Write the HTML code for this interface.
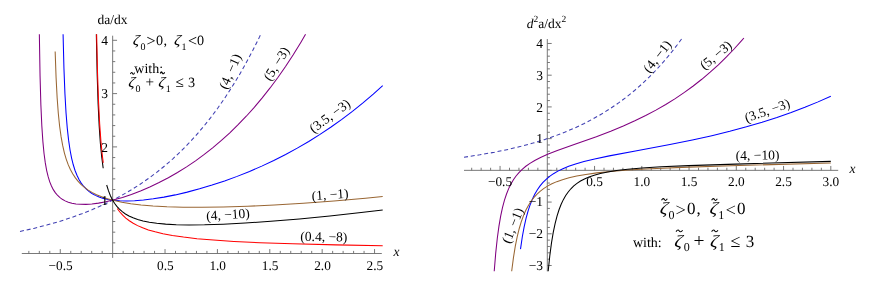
<!DOCTYPE html>
<html><head><meta charset="utf-8"><title>plot</title>
<style>html,body{margin:0;padding:0;background:#fff;width:872px;height:285px;overflow:hidden}
body{position:relative;font-family:"Liberation Serif",serif}</style></head><body>
<svg width="872" height="285" viewBox="0 0 872 285" style="position:absolute;left:0;top:0;will-change:transform">
<rect width="872" height="285" fill="#fff"/>
<path d="M21.8 253.5 H381.8 M112.65 35.7 V257.9" stroke="#6a6a6a" stroke-width="0.9" fill="none"/>
<path d="M28.84 253.5 v-2.6 M39.32 253.5 v-2.6 M49.79 253.5 v-2.6 M60.27 253.5 v-4.4 M70.75 253.5 v-2.6 M81.22 253.5 v-2.6 M91.70 253.5 v-2.6 M102.17 253.5 v-2.6 M123.13 253.5 v-2.6 M133.60 253.5 v-2.6 M144.08 253.5 v-2.6 M154.55 253.5 v-2.6 M165.03 253.5 v-4.4 M175.51 253.5 v-2.6 M185.98 253.5 v-2.6 M196.46 253.5 v-2.6 M206.93 253.5 v-2.6 M217.41 253.5 v-4.4 M227.89 253.5 v-2.6 M238.36 253.5 v-2.6 M248.84 253.5 v-2.6 M259.31 253.5 v-2.6 M269.79 253.5 v-4.4 M280.27 253.5 v-2.6 M290.74 253.5 v-2.6 M301.22 253.5 v-2.6 M311.69 253.5 v-2.6 M322.17 253.5 v-4.4 M332.65 253.5 v-2.6 M343.12 253.5 v-2.6 M353.60 253.5 v-2.6 M364.07 253.5 v-2.6 M374.55 253.5 v-4.4 M112.65 253.50 h4.4 M112.65 242.84 h2.6 M112.65 232.18 h2.6 M112.65 221.52 h2.6 M112.65 210.86 h2.6 M112.65 200.20 h4.4 M112.65 189.54 h2.6 M112.65 178.88 h2.6 M112.65 168.22 h2.6 M112.65 157.56 h2.6 M112.65 146.90 h4.4 M112.65 136.24 h2.6 M112.65 125.58 h2.6 M112.65 114.92 h2.6 M112.65 104.26 h2.6 M112.65 93.60 h4.4 M112.65 82.94 h2.6 M112.65 72.28 h2.6 M112.65 61.62 h2.6 M112.65 50.96 h2.6 M112.65 40.30 h4.4 " stroke="#6a6a6a" stroke-width="0.9" fill="none"/>
<path d="M464 170.35 H838.2 M547.3 39.0 V271.3" stroke="#6a6a6a" stroke-width="0.9" fill="none"/>
<path d="M471.70 170.35 v-2.6 M481.15 170.35 v-2.6 M490.60 170.35 v-2.6 M500.05 170.35 v-4.4 M509.50 170.35 v-2.6 M518.95 170.35 v-2.6 M528.40 170.35 v-2.6 M537.85 170.35 v-2.6 M556.75 170.35 v-2.6 M566.20 170.35 v-2.6 M575.65 170.35 v-2.6 M585.10 170.35 v-2.6 M594.55 170.35 v-4.4 M604.00 170.35 v-2.6 M613.45 170.35 v-2.6 M622.90 170.35 v-2.6 M632.35 170.35 v-2.6 M641.80 170.35 v-4.4 M651.25 170.35 v-2.6 M660.70 170.35 v-2.6 M670.15 170.35 v-2.6 M679.60 170.35 v-2.6 M689.05 170.35 v-4.4 M698.50 170.35 v-2.6 M707.95 170.35 v-2.6 M717.40 170.35 v-2.6 M726.85 170.35 v-2.6 M736.30 170.35 v-4.4 M745.75 170.35 v-2.6 M755.20 170.35 v-2.6 M764.65 170.35 v-2.6 M774.10 170.35 v-2.6 M783.55 170.35 v-4.4 M793.00 170.35 v-2.6 M802.45 170.35 v-2.6 M811.90 170.35 v-2.6 M821.35 170.35 v-2.6 M830.80 170.35 v-4.4 M547.3 265.51 h4.4 M547.3 259.17 h2.6 M547.3 252.82 h2.6 M547.3 246.48 h2.6 M547.3 240.13 h2.6 M547.3 233.79 h4.4 M547.3 227.45 h2.6 M547.3 221.10 h2.6 M547.3 214.76 h2.6 M547.3 208.41 h2.6 M547.3 202.07 h4.4 M547.3 195.73 h2.6 M547.3 189.38 h2.6 M547.3 183.04 h2.6 M547.3 176.69 h2.6 M547.3 170.35 h4.4 M547.3 164.01 h2.6 M547.3 157.66 h2.6 M547.3 151.32 h2.6 M547.3 144.97 h2.6 M547.3 138.63 h4.4 M547.3 132.29 h2.6 M547.3 125.94 h2.6 M547.3 119.60 h2.6 M547.3 113.25 h2.6 M547.3 106.91 h4.4 M547.3 100.57 h2.6 M547.3 94.22 h2.6 M547.3 87.88 h2.6 M547.3 81.53 h2.6 M547.3 75.19 h4.4 M547.3 68.85 h2.6 M547.3 62.50 h2.6 M547.3 56.16 h2.6 M547.3 49.81 h2.6 M547.3 43.47 h4.4 " stroke="#6a6a6a" stroke-width="0.9" fill="none"/>
<path d="M20.00 231.49 L33.78 228.39 L46.78 225.08 L59.06 221.54 L70.73 217.78 L81.85 213.78 L92.43 209.56 L102.59 205.08 L112.38 200.34 L121.81 195.33 L130.94 190.03 L139.77 184.45 L148.36 178.55 L156.70 172.34 L164.86 165.76 L172.84 158.82 L180.64 151.50 L188.32 143.74 L195.82 135.60 L203.19 127.00 L210.51 117.85 L217.70 108.21 L224.84 97.97 L231.85 87.20 L238.81 75.79 L245.70 63.70 L252.59 50.80 L259.42 37.14 L260.79 34.30" stroke="#3f3fb2" stroke-width="1.05" fill="none" stroke-dasharray="4 2.8"/>
<path d="M39.35 34.30 L40.06 75.99 L40.88 104.90 L41.82 125.69 L42.87 141.38 L44.03 153.46 L45.30 162.94 L46.68 170.55 L48.16 176.72 L49.75 181.83 L51.46 186.07 L53.30 189.65 L55.27 192.66 L57.40 195.23 L59.72 197.42 L62.28 199.30 L65.12 200.88 L68.31 202.19 L71.88 203.21 L75.96 203.94 L80.60 204.34 L85.89 204.38 L91.84 203.99 L98.53 203.13 L105.93 201.77 L113.97 199.86 L122.48 197.42 L131.38 194.44 L140.50 190.97 L149.78 187.00 L159.08 182.59 L168.34 177.75 L177.49 172.51 L186.57 166.86 L195.52 160.82 L204.29 154.42 L212.93 147.62 L221.42 140.44 L229.82 132.80 L238.12 124.73 L246.28 116.23 L254.28 107.33 L262.22 97.90 L270.09 87.94 L277.87 77.45 L285.54 66.43 L293.23 54.69 L300.79 42.42 L305.55 34.30" stroke="#800080" stroke-width="1.05" fill="none"/>
<path d="M63.08 34.30 L63.95 68.49 L64.94 93.72 L66.04 113.03 L67.26 128.10 L68.59 140.18 L70.04 149.98 L71.59 158.04 L73.26 164.77 L75.04 170.45 L76.96 175.31 L79.01 179.49 L81.20 183.08 L83.55 186.21 L86.10 188.97 L88.90 191.40 L91.95 193.54 L95.33 195.40 L99.10 197.01 L103.33 198.38 L108.14 199.49 L113.58 200.31 L119.73 200.82 L126.73 200.97 L134.62 200.73 L143.50 200.03 L153.28 198.84 L163.94 197.13 L175.30 194.89 L187.21 192.13 L199.55 188.85 L212.07 185.11 L224.60 180.95 L237.15 176.37 L249.53 171.42 L261.77 166.11 L273.79 160.47 L285.64 154.46 L297.27 148.13 L308.74 141.44 L320.02 134.39 L331.07 127.02 L341.83 119.37 L352.42 111.37 L362.96 102.90 L373.28 94.10 L382.70 85.60" stroke="#0000ff" stroke-width="1.05" fill="none"/>
<path d="M55.16 51.49 L56.09 77.85 L57.14 97.78 L58.32 113.53 L59.63 126.21 L61.08 136.67 L62.66 145.41 L64.36 152.78 L66.20 159.11 L68.20 164.65 L70.37 169.51 L72.69 173.81 L75.21 177.65 L77.95 181.14 L80.95 184.30 L84.23 187.19 L87.87 189.87 L91.94 192.35 L96.52 194.66 L101.67 196.80 L107.51 198.77 L114.17 200.58 L121.87 202.23 L130.76 203.69 L141.06 204.95 L153.04 205.99 L166.95 206.76 L183.16 207.22 L201.89 207.33 L223.28 207.03 L247.56 206.27 L274.41 205.00 L303.34 203.22 L333.94 200.94 L365.50 198.18 L382.70 196.50" stroke="#996633" stroke-width="1.05" fill="none"/>
<path d="M96.33 34.30 L97.18 74.74 L98.13 104.15 L99.19 126.13 L100.35 142.93 L101.63 156.28 L103.01 166.94 L103.20 168.22" stroke="#000000" stroke-width="1.05" fill="none"/>
<path d="M106.68 185.01 L108.43 190.66 L110.32 195.49 L112.33 199.63 L114.50 203.22 L116.86 206.38 L119.44 209.19 L122.27 211.69 L125.43 213.95 L128.99 215.99 L133.04 217.83 L137.67 219.48 L143.05 220.95 L149.33 222.23 L156.75 223.30 L165.59 224.14 L176.23 224.71 L189.03 224.95 L204.53 224.81 L223.15 224.21 L245.23 223.05 L270.84 221.29 L299.40 218.90 L329.86 215.94 L361.12 212.50 L382.70 209.90" stroke="#000000" stroke-width="1.05" fill="none"/>
<path d="M96.62 34.30 L97.53 73.20 L98.56 102.01 L99.68 123.95 L100.92 141.18 L102.27 154.94 L103.26 162.89" stroke="#ff0000" stroke-width="1.05" fill="none"/>
<path d="M117.24 208.46 L119.84 211.99 L122.68 215.17 L125.81 218.09 L129.30 220.79 L133.19 223.29 L137.59 225.63 L142.62 227.83 L148.40 229.90 L155.13 231.86 L162.99 233.71 L172.35 235.46 L183.51 237.10 L196.97 238.65 L213.48 240.10 L233.96 241.45 L259.73 242.70 L292.74 243.84 L335.84 244.88 L382.70 245.66" stroke="#ff0000" stroke-width="1.05" fill="none"/>
<path d="M464.00 157.21 L479.84 154.82 L494.51 152.21 L508.15 149.39 L520.92 146.36 L532.91 143.11 L544.22 139.65 L554.98 135.94 L565.19 132.02 L574.98 127.84 L584.33 123.41 L593.32 118.73 L602.00 113.76 L610.44 108.48 L618.57 102.92 L626.52 97.00 L634.22 90.77 L641.74 84.18 L649.14 77.16 L656.36 69.77 L663.45 61.93 L670.42 53.63 L677.33 44.77 L682.29 38.00" stroke="#3f3fb2" stroke-width="1.05" fill="none" stroke-dasharray="4 2.8"/>
<path d="M494.22 271.20 L495.72 253.07 L497.30 238.27 L498.96 226.13 L500.71 215.93 L502.54 207.44 L504.48 200.20 L506.52 194.00 L508.66 188.64 L510.96 183.93 L513.41 179.75 L516.06 175.99 L518.96 172.54 L522.19 169.32 L525.82 166.28 L529.94 163.37 L534.75 160.48 L540.52 157.52 L547.66 154.34 L557.32 150.55 L574.89 144.29 L596.35 136.68 L610.73 131.21 L623.32 126.01 L634.85 120.84 L645.69 115.55 L655.92 110.13 L665.75 104.48 L675.22 98.58 L684.40 92.40 L693.23 85.98 L701.79 79.28 L710.18 72.21 L718.36 64.80 L726.47 56.93 L734.32 48.75 L742.06 40.13 L743.89 38.00" stroke="#800080" stroke-width="1.05" fill="none"/>
<path d="M520.50 249.17 L522.28 237.01 L524.14 226.83 L526.09 218.13 L528.12 210.78 L530.25 204.43 L532.48 198.92 L534.86 194.05 L537.39 189.74 L540.08 185.92 L542.98 182.46 L546.16 179.29 L549.62 176.40 L553.50 173.68 L557.88 171.11 L562.88 168.67 L568.69 166.30 L575.57 163.95 L583.96 161.54 L594.67 158.94 L609.29 155.87 L636.77 150.73 L669.89 144.55 L692.35 140.00 L711.87 135.65 L729.81 131.27 L746.41 126.82 L762.09 122.22 L776.95 117.46 L791.15 112.51 L804.88 107.31 L818.06 101.89 L830.80 96.23" stroke="#0000ff" stroke-width="1.05" fill="none"/>
<path d="M511.68 271.20 L513.45 257.61 L515.30 246.21 L517.23 236.61 L519.25 228.48 L521.37 221.45 L523.60 215.35 L525.94 210.04 L528.40 205.40 L531.02 201.27 L533.80 197.61 L536.81 194.30 L540.05 191.31 L543.59 188.59 L547.50 186.09 L551.87 183.78 L556.80 181.64 L562.47 179.64 L569.03 177.77 L576.72 176.03 L585.83 174.40 L596.89 172.88 L610.54 171.44 L627.88 170.07 L650.59 168.74 L682.05 167.37 L730.97 165.75 L830.80 163.00" stroke="#996633" stroke-width="1.05" fill="none"/>
<path d="M548.18 271.20 L549.80 255.71 L551.49 242.95 L553.25 232.41 L555.10 223.52 L557.02 216.08 L559.03 209.74 L561.15 204.30 L563.35 199.63 L565.70 195.54 L568.20 191.96 L570.88 188.77 L573.78 185.94 L576.98 183.37 L580.51 181.04 L584.46 178.93 L588.96 176.99 L594.19 175.19 L600.35 173.53 L607.67 172.00 L616.60 170.59 L627.74 169.27 L642.05 168.04 L661.20 166.85 L688.62 165.64 L735.65 164.11 L830.80 161.36" stroke="#000000" stroke-width="1.05" fill="none"/>
<text x="60.6" y="269.6" text-anchor="middle" style="font-family:'Liberation Serif',serif;fill:#000;text-rendering:geometricPrecision;font-size:13.3px">−0.5</text>
<text x="165.3" y="269.6" text-anchor="middle" style="font-family:'Liberation Serif',serif;fill:#000;text-rendering:geometricPrecision;font-size:13.3px">0.5</text>
<text x="217.7" y="269.6" text-anchor="middle" style="font-family:'Liberation Serif',serif;fill:#000;text-rendering:geometricPrecision;font-size:13.3px">1.0</text>
<text x="270.1" y="269.6" text-anchor="middle" style="font-family:'Liberation Serif',serif;fill:#000;text-rendering:geometricPrecision;font-size:13.3px">1.5</text>
<text x="322.5" y="269.6" text-anchor="middle" style="font-family:'Liberation Serif',serif;fill:#000;text-rendering:geometricPrecision;font-size:13.3px">2.0</text>
<text x="374.9" y="269.6" text-anchor="middle" style="font-family:'Liberation Serif',serif;fill:#000;text-rendering:geometricPrecision;font-size:13.3px">2.5</text>
<text x="108.0" y="204.9" text-anchor="end" style="font-family:'Liberation Serif',serif;fill:#000;text-rendering:geometricPrecision;font-size:13.5px">1</text>
<text x="108.0" y="151.6" text-anchor="end" style="font-family:'Liberation Serif',serif;fill:#000;text-rendering:geometricPrecision;font-size:13.5px">2</text>
<text x="108.0" y="98.3" text-anchor="end" style="font-family:'Liberation Serif',serif;fill:#000;text-rendering:geometricPrecision;font-size:13.5px">3</text>
<text x="108.0" y="45.0" text-anchor="end" style="font-family:'Liberation Serif',serif;fill:#000;text-rendering:geometricPrecision;font-size:13.5px">4</text>
<text x="112.5" y="24.2" text-anchor="middle" style="font-family:'Liberation Serif',serif;fill:#000;text-rendering:geometricPrecision;font-size:13.5px">da/dx</text>
<text x="396.4" y="255.8" text-anchor="middle" style="font-family:'Liberation Serif',serif;fill:#000;text-rendering:geometricPrecision;font-size:13.5px"><tspan font-style="italic">x</tspan></text>
<text x="500.0" y="186.3" text-anchor="middle" style="font-family:'Liberation Serif',serif;fill:#000;text-rendering:geometricPrecision;font-size:13.3px">−0.5</text>
<text x="594.5" y="186.3" text-anchor="middle" style="font-family:'Liberation Serif',serif;fill:#000;text-rendering:geometricPrecision;font-size:13.3px">0.5</text>
<text x="641.8" y="186.3" text-anchor="middle" style="font-family:'Liberation Serif',serif;fill:#000;text-rendering:geometricPrecision;font-size:13.3px">1.0</text>
<text x="689.0" y="186.3" text-anchor="middle" style="font-family:'Liberation Serif',serif;fill:#000;text-rendering:geometricPrecision;font-size:13.3px">1.5</text>
<text x="736.3" y="186.3" text-anchor="middle" style="font-family:'Liberation Serif',serif;fill:#000;text-rendering:geometricPrecision;font-size:13.3px">2.0</text>
<text x="783.5" y="186.3" text-anchor="middle" style="font-family:'Liberation Serif',serif;fill:#000;text-rendering:geometricPrecision;font-size:13.3px">2.5</text>
<text x="830.8" y="186.3" text-anchor="middle" style="font-family:'Liberation Serif',serif;fill:#000;text-rendering:geometricPrecision;font-size:13.3px">3.0</text>
<text x="543.0" y="269.5" text-anchor="end" style="font-family:'Liberation Serif',serif;fill:#000;text-rendering:geometricPrecision;font-size:13.5px">−3</text>
<text x="543.0" y="237.8" text-anchor="end" style="font-family:'Liberation Serif',serif;fill:#000;text-rendering:geometricPrecision;font-size:13.5px">−2</text>
<text x="543.0" y="206.1" text-anchor="end" style="font-family:'Liberation Serif',serif;fill:#000;text-rendering:geometricPrecision;font-size:13.5px">−1</text>
<text x="543.0" y="143.3" text-anchor="end" style="font-family:'Liberation Serif',serif;fill:#000;text-rendering:geometricPrecision;font-size:13.5px">1</text>
<text x="543.0" y="111.6" text-anchor="end" style="font-family:'Liberation Serif',serif;fill:#000;text-rendering:geometricPrecision;font-size:13.5px">2</text>
<text x="543.0" y="79.9" text-anchor="end" style="font-family:'Liberation Serif',serif;fill:#000;text-rendering:geometricPrecision;font-size:13.5px">3</text>
<text x="543.0" y="48.2" text-anchor="end" style="font-family:'Liberation Serif',serif;fill:#000;text-rendering:geometricPrecision;font-size:13.5px">4</text>
<text x="852.6" y="172.6" text-anchor="middle" style="font-family:'Liberation Serif',serif;fill:#000;text-rendering:geometricPrecision;font-size:13.5px"><tspan font-style="italic">x</tspan></text>
<text x="546.5" y="27.5" text-anchor="middle" style="font-family:'Liberation Serif',serif;fill:#000;text-rendering:geometricPrecision;font-size:13.5px"><tspan font-style="italic">d</tspan><tspan font-size="9.5" dy="-5.5">2</tspan><tspan dy="5.5">a/dx</tspan><tspan font-size="9.5" dy="-5.5">2</tspan></text>
<text x="234.2" y="73.2" text-anchor="middle" style="font-family:'Liberation Serif',serif;fill:#000;text-rendering:geometricPrecision;font-size:13.5px" transform="rotate(-66 234.2 73.2)">(4, −1)</text>
<text x="280.2" y="66.0" text-anchor="middle" style="font-family:'Liberation Serif',serif;fill:#000;text-rendering:geometricPrecision;font-size:13.5px" transform="rotate(-58 280.2 66.0)">(5, −3)</text>
<text x="332.4" y="119.5" text-anchor="middle" style="font-family:'Liberation Serif',serif;fill:#000;text-rendering:geometricPrecision;font-size:13.5px" transform="rotate(-36.5 332.4 119.5)">(3.5, −3)</text>
<text x="330.4" y="199.1" text-anchor="middle" style="font-family:'Liberation Serif',serif;fill:#000;text-rendering:geometricPrecision;font-size:13.5px" transform="rotate(-4 330.4 199.1)">(1, −1)</text>
<text x="228.2" y="218.9" text-anchor="middle" style="font-family:'Liberation Serif',serif;fill:#000;text-rendering:geometricPrecision;font-size:13.5px" transform="rotate(-4 228.2 218.9)">(4, −10)</text>
<text x="323.8" y="241.1" text-anchor="middle" style="font-family:'Liberation Serif',serif;fill:#000;text-rendering:geometricPrecision;font-size:13.5px" transform="rotate(1 323.8 241.1)">(0.4, −8)</text>
<text x="660.8" y="59.1" text-anchor="middle" style="font-family:'Liberation Serif',serif;fill:#000;text-rendering:geometricPrecision;font-size:13.5px" transform="rotate(-52 660.8 59.1)">(4, −1)</text>
<text x="718.7" y="58.5" text-anchor="middle" style="font-family:'Liberation Serif',serif;fill:#000;text-rendering:geometricPrecision;font-size:13.5px" transform="rotate(-40 718.7 58.5)">(5, −3)</text>
<text x="768.8" y="114.8" text-anchor="middle" style="font-family:'Liberation Serif',serif;fill:#000;text-rendering:geometricPrecision;font-size:13.5px" transform="rotate(-19 768.8 114.8)">(3.5, −3)</text>
<text x="757.6" y="159.7" text-anchor="middle" style="font-family:'Liberation Serif',serif;fill:#000;text-rendering:geometricPrecision;font-size:13.5px" transform="rotate(-1 757.6 159.7)">(4, −10)</text>
<text x="516.7" y="227.2" text-anchor="middle" style="font-family:'Liberation Serif',serif;fill:#000;text-rendering:geometricPrecision;font-size:13.5px" transform="rotate(-68 516.7 227.2)">(1, −1)</text>
<text transform="translate(132.6 44.8) skewX(-6) scale(1.14 1)" style="font-family:'Liberation Serif',serif;fill:#000;text-rendering:geometricPrecision;font-style:italic;font-size:14.2px">ζ</text>
<text x="140.6" y="49.5" style="font-family:'Liberation Serif',serif;fill:#000;text-rendering:geometricPrecision;font-size:10px">0</text>
<text x="146.6" y="45.8" style="font-family:'Liberation Serif',serif;fill:#000;text-rendering:geometricPrecision;font-size:16px">&gt;</text>
<text x="156.1" y="44.8" style="font-family:'Liberation Serif',serif;fill:#000;text-rendering:geometricPrecision;font-size:14.2px">0</text>
<text x="163.6" y="44.8" style="font-family:'Liberation Serif',serif;fill:#000;text-rendering:geometricPrecision;font-size:14.2px">,</text>
<text transform="translate(173.8 44.8) skewX(-6) scale(1.14 1)" style="font-family:'Liberation Serif',serif;fill:#000;text-rendering:geometricPrecision;font-style:italic;font-size:14.2px">ζ</text>
<text x="181.6" y="49.5" style="font-family:'Liberation Serif',serif;fill:#000;text-rendering:geometricPrecision;font-size:10px">1</text>
<text x="187.9" y="45.8" style="font-family:'Liberation Serif',serif;fill:#000;text-rendering:geometricPrecision;font-size:16px">&lt;</text>
<text x="197.1" y="44.8" style="font-family:'Liberation Serif',serif;fill:#000;text-rendering:geometricPrecision;font-size:14.2px">0</text>
<text x="134.3" y="73.4" style="font-family:'Liberation Serif',serif;fill:#000;text-rendering:geometricPrecision;font-size:14px">with:</text>
<path d="M130.40 74.00 C131.45 71.70 132.08 72.30 132.50 73.40 S133.68 74.80 134.60 72.60" stroke="#000" stroke-width="1.05" fill="none"/>
<path d="M160.20 73.60 C161.30 71.30 161.96 71.90 162.40 73.00 S163.63 74.40 164.60 72.20" stroke="#000" stroke-width="1.05" fill="none"/>
<text transform="translate(128.0 87.3) skewX(-6) scale(1.14 1)" style="font-family:'Liberation Serif',serif;fill:#000;text-rendering:geometricPrecision;font-style:italic;font-size:14.2px">ζ</text>
<text x="135.6" y="91.6" style="font-family:'Liberation Serif',serif;fill:#000;text-rendering:geometricPrecision;font-size:10px">0</text>
<text x="145.6" y="87.3" style="font-family:'Liberation Serif',serif;fill:#000;text-rendering:geometricPrecision;font-size:15.2px">+</text>
<text transform="translate(158.0 87.3) skewX(-6) scale(1.14 1)" style="font-family:'Liberation Serif',serif;fill:#000;text-rendering:geometricPrecision;font-style:italic;font-size:14.2px">ζ</text>
<text x="165.8" y="91.6" style="font-family:'Liberation Serif',serif;fill:#000;text-rendering:geometricPrecision;font-size:10px">1</text>
<text x="175.4" y="87.3" style="font-family:'Liberation Serif',serif;fill:#000;text-rendering:geometricPrecision;font-size:15.2px">≤</text>
<text x="188.0" y="87.3" style="font-family:'Liberation Serif',serif;fill:#000;text-rendering:geometricPrecision;font-size:14.2px">3</text>
<text transform="translate(659.6 214.2) skewX(-6) scale(1.14 1)" style="font-family:'Liberation Serif',serif;fill:#000;text-rendering:geometricPrecision;font-style:italic;font-size:17px">ζ</text>
<path d="M661.50 200.20 C662.95 197.90 663.82 198.50 664.40 199.60 S666.02 201.00 667.30 198.80" stroke="#000" stroke-width="1.05" fill="none"/>
<text x="668.6" y="219.1" style="font-family:'Liberation Serif',serif;fill:#000;text-rendering:geometricPrecision;font-size:12px">0</text>
<text x="675.5" y="215.7" style="font-family:'Liberation Serif',serif;fill:#000;text-rendering:geometricPrecision;font-size:18.5px">&gt;</text>
<text x="686.9" y="214.2" style="font-family:'Liberation Serif',serif;fill:#000;text-rendering:geometricPrecision;font-size:17px">0</text>
<text x="696.6" y="214.2" style="font-family:'Liberation Serif',serif;fill:#000;text-rendering:geometricPrecision;font-size:17px">,</text>
<text transform="translate(709.2 214.2) skewX(-6) scale(1.14 1)" style="font-family:'Liberation Serif',serif;fill:#000;text-rendering:geometricPrecision;font-style:italic;font-size:17px">ζ</text>
<path d="M711.60 200.20 C713.02 197.90 713.88 198.50 714.45 199.60 S716.05 201.00 717.30 198.80" stroke="#000" stroke-width="1.05" fill="none"/>
<text x="718.2" y="219.1" style="font-family:'Liberation Serif',serif;fill:#000;text-rendering:geometricPrecision;font-size:12px">1</text>
<text x="725.6" y="215.7" style="font-family:'Liberation Serif',serif;fill:#000;text-rendering:geometricPrecision;font-size:18.5px">&lt;</text>
<text x="736.9" y="214.2" style="font-family:'Liberation Serif',serif;fill:#000;text-rendering:geometricPrecision;font-size:17px">0</text>
<text x="632.9" y="247.4" style="font-family:'Liberation Serif',serif;fill:#000;text-rendering:geometricPrecision;font-size:14px">with:</text>
<text transform="translate(674.1 246.6) skewX(-6) scale(1.14 1)" style="font-family:'Liberation Serif',serif;fill:#000;text-rendering:geometricPrecision;font-style:italic;font-size:17px">ζ</text>
<path d="M676.00 231.60 C677.65 229.30 678.64 229.90 679.30 231.00 S681.15 232.40 682.60 230.20" stroke="#000" stroke-width="1.05" fill="none"/>
<text x="683.8" y="250.8" style="font-family:'Liberation Serif',serif;fill:#000;text-rendering:geometricPrecision;font-size:12px">0</text>
<text x="693.6" y="247.0" style="font-family:'Liberation Serif',serif;fill:#000;text-rendering:geometricPrecision;font-size:19.5px">+</text>
<text transform="translate(709.7 246.6) skewX(-6) scale(1.14 1)" style="font-family:'Liberation Serif',serif;fill:#000;text-rendering:geometricPrecision;font-style:italic;font-size:17px">ζ</text>
<path d="M711.60 231.60 C713.20 229.30 714.16 229.90 714.80 231.00 S716.59 232.40 718.00 230.20" stroke="#000" stroke-width="1.05" fill="none"/>
<text x="718.7" y="250.8" style="font-family:'Liberation Serif',serif;fill:#000;text-rendering:geometricPrecision;font-size:12px">1</text>
<text x="730.6" y="246.6" style="font-family:'Liberation Serif',serif;fill:#000;text-rendering:geometricPrecision;font-size:18px">≤</text>
<text x="745.8" y="246.6" style="font-family:'Liberation Serif',serif;fill:#000;text-rendering:geometricPrecision;font-size:17px">3</text>
</svg>
</body></html>
